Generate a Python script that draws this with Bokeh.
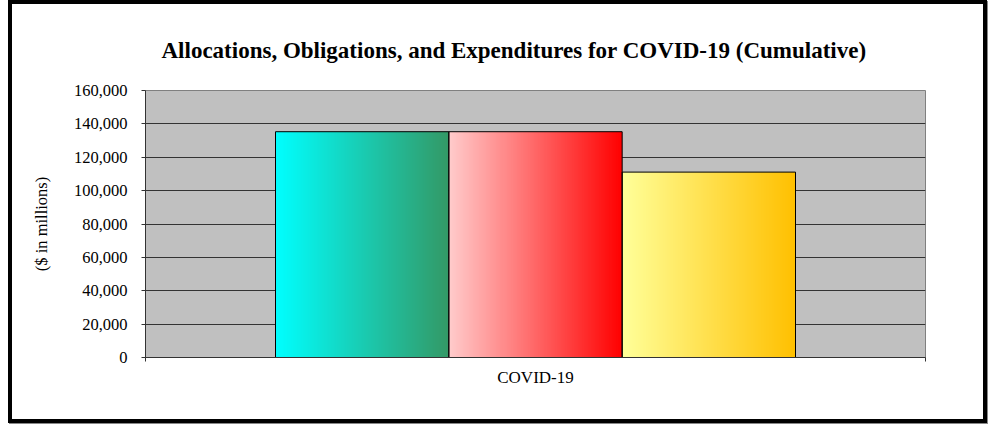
import numpy as np
from bokeh.plotting import figure
from bokeh.models import Range1d, FixedTicker, NumeralTickFormatter, Title
from bokeh.embed import file_html
from bokeh.resources import INLINE

# ---- data ----
categories = ["COVID-19"]
series = ["Allocations", "Obligations", "Expenditures"]
values = [135300, 135300, 111100]
y_ticks = [0, 20000, 40000, 60000, 80000, 100000, 120000, 140000, 160000]
title_text = "Allocations, Obligations, and Expenditures for COVID-19 (Cumulative)"
y_label = "($ in millions)"

# gradient (left colour, right colour) per series
grad_colors = [("#00FFFF", "#339966"), ("#FFCCCC", "#FF0000"), ("#FFFF99", "#FFC000")]


def hex_rgb(h):
    h = h.lstrip("#")
    return [int(h[i:i + 2], 16) for i in (0, 2, 4)]


def gradient(c0, c1, n=256):
    a = np.array(hex_rgb(c0), dtype=float)
    b = np.array(hex_rgb(c1), dtype=float)
    t = np.linspace(0, 1, n)[:, None]
    rgb = (a + (b - a) * t).round().astype(np.uint8)
    img = np.empty((1, n), dtype=np.uint32)
    view = img.view(dtype=np.uint8).reshape((1, n, 4))
    view[0, :, 0] = rgb[:, 0]
    view[0, :, 1] = rgb[:, 1]
    view[0, :, 2] = rgb[:, 2]
    view[0, :, 3] = 255
    return img


p = figure(
    width=971, height=415,
    x_range=Range1d(0, 1), y_range=Range1d(0, 160000),
    output_backend="svg", toolbar_location=None,
    min_border_left=133, min_border_right=66, min_border_top=86, min_border_bottom=70,
    background_fill_color="#C0C0C0", border_fill_color="white",
)
p.styles = {"box-sizing": "content-box", "margin-left": "8px", "margin-top": "0px",
            "border": "4px solid black", "box-shadow": "1px 1px 0 #888888"}
p.title = None
p.outline_line_color = "#808080"
p.outline_line_width = 1

# bars
group_width = 2.0 / 3.0
bar_w = group_width / len(series)
center = 0.5
lefts = [center - group_width / 2 + i * bar_w for i in range(len(series))]
for i, (name, v) in enumerate(zip(series, values)):
    img = gradient(*grad_colors[i])
    p.image_rgba(image=[img], x=lefts[i], y=0, dw=bar_w, dh=v)
p.quad(left=lefts, right=[l + bar_w for l in lefts], top=values, bottom=0,
       fill_color=None, line_color="black", line_width=1)

# grid
p.xgrid.visible = False
p.ygrid.ticker = FixedTicker(ticks=y_ticks)
p.ygrid.grid_line_color = "#333333"
p.ygrid.grid_line_width = 1
p.ygrid.level = "underlay"

# y axis
ya = p.yaxis[0]
ya.ticker = FixedTicker(ticks=y_ticks)
ya.formatter = NumeralTickFormatter(format="0,0")
ya.major_tick_out = 4
ya.major_tick_in = 0
ya.minor_tick_line_color = None
ya.axis_line_color = "#333333"
ya.major_tick_line_color = "#333333"
ya.major_label_text_font = "Liberation Serif"
ya.major_label_text_font_size = "16.5px"
ya.major_label_text_color = "black"
ya.major_label_standoff = 14
ya.axis_label = y_label
ya.axis_label_text_font = "Liberation Serif"
ya.axis_label_text_font_size = "16.5px"
ya.axis_label_text_font_style = "normal"
ya.axis_label_text_color = "black"
ya.axis_label_standoff = 20

# x axis
xa = p.xaxis[0]
xa.ticker = FixedTicker(ticks=[center], minor_ticks=[0, 1])
xa.major_label_overrides = {center: categories[0]}
xa.major_tick_out = 0
xa.major_tick_in = 0
xa.minor_tick_out = 4
xa.minor_tick_in = 0
xa.axis_line_color = "#333333"
xa.minor_tick_line_color = "#333333"
xa.major_label_text_font = "Liberation Serif"
xa.major_label_text_font_size = "17px"
xa.major_label_text_color = "black"
xa.major_label_standoff = 6

t = Title(text=title_text, align="left", offset=16, standoff=55,
          text_font="Liberation Serif", text_font_size="23px",
          text_font_style="bold", text_color="black")
p.add_layout(t, "above")

open("out.html", "w").write(file_html(p, INLINE))
